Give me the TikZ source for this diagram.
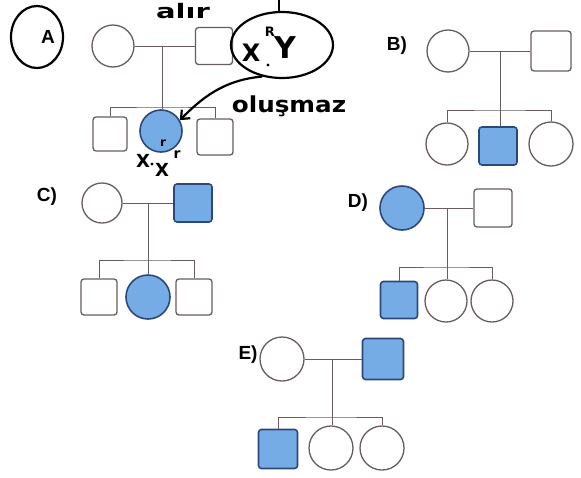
\documentclass[tikz,border=0pt]{standalone}
\usepackage{fontspec}
\setmainfont{Liberation Sans}
\newfontfamily\hand{DejaVu Sans}
\usetikzlibrary{shapes.geometric,arrows.meta}
\definecolor{pfill}{RGB}{118,172,230}
\definecolor{pdraw}{RGB}{45,72,120}
\definecolor{pline}{RGB}{105,92,92}
\begin{document}
\begin{tikzpicture}[x=1pt,y=-1pt,
 fem/.style={circle,draw=pline,line width=1.3pt,minimum size=#1,inner sep=0pt},
 mal/.style={rectangle,rounded corners=3pt,draw=pline,line width=1.3pt,minimum size=#1,inner sep=0pt},
 aff/.style={fill=pfill,draw=pdraw,line width=1.6pt},
 ln/.style={draw=pline,line width=1pt},
 lab/.style={font=\fontsize{19}{22}\selectfont\bfseries},
 pen/.style={line width=2.2pt,draw=black},
 hw/.style={font=\hand\bfseries\fontsize{#1}{#1}\selectfont,inner sep=0pt}]
\useasboundingbox (0,0) rectangle (581,477);

% ---------- A ----------
\node[fem=42] (Am) at (113,46) {};
\node[mal=37] (Af) at (214,46) {};
\coordinate (Ad) at (162,46);
\coordinate (As) at (162,107);
\node[mal=34] (Ac1) at (110,134) {};
\node[fem=42,aff] (Ac2) at (161,131) {};
\node[mal=36] (Ac3) at (215,137) {};
\draw[ln] (Am) -- (Af);
\draw[ln] (Ac1.north) |- (As) -| (Ac3.north);
\draw[ln] (Ad) -- (Ad |- Ac2.north);

% ---------- B ----------
\node[lab] (lB) at (397,46) {B)};
\node[fem=42] (Bm) at (448,51) {};
\node[mal=40] (Bf) at (551,51) {};
\coordinate (Bd) at (500,51);
\coordinate (Bs) at (500,110);
\node[fem=42] (Bc1) at (447,144) {};
\node[mal=38,aff] (Bc2) at (498,146) {};
\node[fem=44] (Bc3) at (551,144) {};
\draw[ln] (Bm) -- (Bf);
\draw[ln] (Bc1.north) |- (Bs) -| (Bc3.north);
\draw[ln] (Bd) -- (Bd |- Bc2.north);

% ---------- C ----------
\node[lab] (lC) at (47,197) {C)};
\node[fem=40] (Cm) at (102,203) {};
\node[mal=38,aff] (Cf) at (193,203) {};
\coordinate (Cd) at (148,203);
\coordinate (Cs) at (148,260);
\node[mal=36] (Cc1) at (99,297) {};
\node[fem=44,aff] (Cc2) at (148,297) {};
\node[mal=36] (Cc3) at (194,297) {};
\draw[ln] (Cm) -- (Cf);
\draw[ln] (Cc1.north) |- (Cs) -| (Cc3.north);
\draw[ln] (Cd) -- (Cd |- Cc2.north);

% ---------- D ----------
\node[lab] (lD) at (358,203) {D)};
\node[fem=44,aff] (Dm) at (402,208) {};
\node[mal=38] (Df) at (493,208) {};
\coordinate (Dd) at (447,208);
\coordinate (Ds) at (447,267);
\node[mal=37,aff] (Dc1) at (399,300) {};
\node[fem=42] (Dc2) at (446,301) {};
\node[fem=42] (Dc3) at (492,301) {};
\draw[ln] (Dm) -- (Df);
\draw[ln] (Dc1.north) |- (Ds) -| (Dc3.north);
\draw[ln] (Dd) -- (Dd |- Dc2.north);

% ---------- E ----------
\node[lab] (lE) at (248,355) {E)};
\node[fem=44] (Em) at (282,359) {};
\node[mal=41,aff] (Ef) at (383,359) {};
\coordinate (Ed) at (332,359);
\coordinate (Es) at (332,417);
\node[mal=39,aff] (Ec1) at (278,449) {};
\node[fem=44] (Ec2) at (331,448) {};
\node[fem=44] (Ec3) at (382,448) {};
\draw[ln] (Em) -- (Ef);
\draw[ln] (Ec1.north) |- (Es) -| (Ec3.north);
\draw[ln] (Ed) -- (Ed |- Ec2.north);

% ---------- handwriting ----------
\node[ellipse,pen,minimum width=52,minimum height=62,inner sep=0pt] (cA) at (37,37) {};
\node[font=\fontsize{19}{20}\selectfont\bfseries] (tA) at (48,37) {A};
\node[hw=20,xscale=1.45] (alir) at (183,11) {alır};
\node[ellipse,pen,minimum width=102,minimum height=66,inner sep=0pt] (ell) at (282,45) {};
\draw[pen] (ell.95) -- ++(0,-16);
\node[hw=24] (x1) at (251,53) {X};
\node[hw=13] (r1) at (270,32) {R};
\node[hw=30] (y1) at (285,48) {Y};
\fill (268,65) circle (1.6);
\draw[pen,-{Straight Barb[length=7pt,width=12pt]}] (ell.238) .. controls (222,80) and (200,100) .. (Ac2.30);
\node[hw=22,xscale=1.12] (olus) at (289,106) {oluşmaz};
\node[hw=12] (r0) at (163,143) {r};
\node[hw=18] (x2) at (143,161) {X};
\fill (152,164) circle (1.6);
\node[hw=18] (x3) at (162,170) {X};
\node[hw=14] (r2) at (177,155) {r};
\end{tikzpicture}
\end{document}
